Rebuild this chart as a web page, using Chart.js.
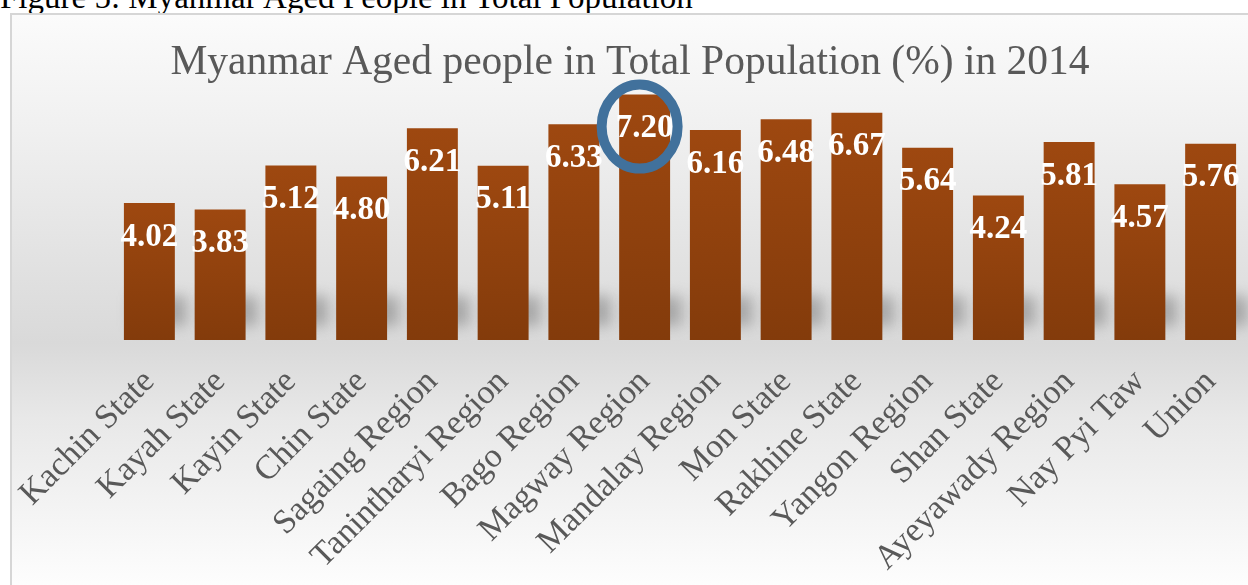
<!DOCTYPE html>
<html>
<head>
<meta charset="utf-8">
<script src="https://cdn.jsdelivr.net/npm/chart.js@4.4.0/dist/chart.umd.min.js"></script>
<style>
  html, body { margin: 0; padding: 0; background: #fff; overflow: hidden; }
  body { width: 1248px; height: 585px; position: relative; }
  #caption {
    position: absolute; left: 0; top: -21px;
    font: 33px "Liberation Serif", "Times New Roman", serif; color: #000;
    white-space: nowrap;
  }
  #frame {
    position: absolute; left: 10px; top: 13px; width: 1250px; height: 580px;
    border: 2px solid #d6d6d6; box-sizing: border-box;
    background: linear-gradient(to bottom, #fbfbfb 0%, #f0f0f0 20%, #d9d9d9 57%, #e8e8e8 70%, #fefefe 100%);
  }
  #wrap { position: absolute; left: 0; top: 0; width: 1236px; height: 571px; }
</style>
</head>
<body>
<div id="caption">Figure 5: Myanmar Aged People in Total Population</div>
<div id="frame"><div id="wrap"><canvas id="chart"></canvas></div></div>
<script>
// Data
const regions = ['Kachin State', 'Kayah State', 'Kayin State', 'Chin State', 'Sagaing Region', 'Tanintharyi Region', 'Bago Region', 'Magway Region', 'Mandalay Region', 'Mon State', 'Rakhine State', 'Yangon Region', 'Shan State', 'Ayeyawady Region', 'Nay Pyi Taw', 'Union'];
const agedPercent = [4.02, 3.83, 5.12, 4.80, 6.21, 5.11, 6.33, 7.20, 6.16, 6.48, 6.67, 5.64, 4.24, 5.81, 4.57, 5.76];
const chartTitle = 'Myanmar Aged people in Total Population (%) in 2014';

const serif = '"Liberation Serif", "Times New Roman", serif';

function barGradient(context) {
  const chart = context.chart;
  const area = chart.chartArea;
  if (!area) return '#8f410e';
  const y = chart.scales.y;
  const top = y.getPixelForValue(agedPercent[context.dataIndex]);
  const base = y.getPixelForValue(0);
  const g = chart.ctx.createLinearGradient(0, top, 0, base);
  g.addColorStop(0, '#9e4810');
  g.addColorStop(1, '#833b0b');
  return g;
}

// soft shadow behind the foot of each bar
const barShadow = {
  id: 'barShadow',
  beforeDatasetsDraw(chart) {
    const ctx = chart.ctx;
    const meta = chart.getDatasetMeta(0);
    ctx.save();
    ctx.filter = 'blur(7px)';
    ctx.fillStyle = 'rgba(90,90,90,0.4)';
    meta.data.forEach(bar => {
      const w = bar.width;
      ctx.fillRect(bar.x - w / 2 + 8, bar.base - 44, w + 4, 30);
    });
    ctx.restore();
  }
};

// value labels inside bars plus the highlight ring
const valueLabels = {
  id: 'valueLabels',
  afterDatasetsDraw(chart) {
    const ctx = chart.ctx;
    const meta = chart.getDatasetMeta(0);
    ctx.save();
    ctx.font = 'bold 33px ' + serif;
    ctx.fillStyle = '#ffffff';
    ctx.textAlign = 'center';
    ctx.textBaseline = 'middle';
    meta.data.forEach((bar, i) => {
      ctx.fillText(agedPercent[i].toFixed(2), bar.x, bar.y + 34);
    });
    const maxIdx = agedPercent.indexOf(Math.max(...agedPercent));
    const hb = meta.data[maxIdx];
    ctx.beginPath();
    ctx.ellipse(hb.x - 5, hb.y + 32, 38, 42, 0, 0, Math.PI * 2);
    ctx.lineWidth = 10;
    ctx.strokeStyle = '#41719c';
    ctx.stroke();
    ctx.restore();
  }
};

new Chart(document.getElementById('chart'), {
  type: 'bar',
  data: {
    labels: regions,
    datasets: [{
      data: agedPercent,
      backgroundColor: barGradient,
      borderWidth: 0,
      barPercentage: 0.72,
      categoryPercentage: 1.0
    }]
  },
  options: {
    responsive: true,
    maintainAspectRatio: false,
    animation: false,
    layout: { padding: 0 },
    plugins: {
      legend: { display: false },
      tooltip: { enabled: false },
      title: {
        display: true,
        text: chartTitle,
        color: '#595959',
        font: { family: serif, size: 41.5, weight: 'normal' },
        padding: { top: 23, bottom: 0 }
      }
    },
    scales: {
      x: {
        grid: { display: false },
        border: { display: false },
        ticks: {
          color: '#595959',
          font: { family: serif, size: 34 },
          minRotation: 45,
          maxRotation: 45,
          padding: 14,
          autoSkip: false
        },
        afterFit(scale) {
          scale.height = 246;
          scale.paddingLeft = 102;
          scale.paddingRight = 2;
        }
      },
      y: {
        display: false,
        min: 0,
        max: 7.4
      }
    }
  },
  plugins: [barShadow, valueLabels]
});
</script>
</body>
</html>
